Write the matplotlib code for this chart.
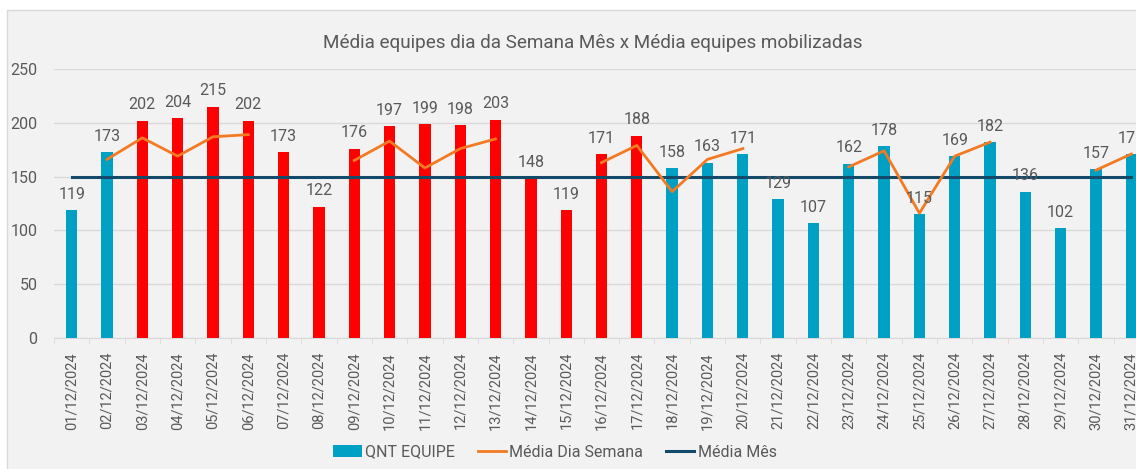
import numpy as np
import matplotlib.pyplot as plt
from matplotlib.patches import Rectangle
from matplotlib.lines import Line2D
from matplotlib.patches import Patch

# ==== DATA ====
datas = [f"{d:02d}/12/2024" for d in range(1, 32)]
qnt_equipe = [119, 173, 202, 204, 215, 202, 173, 122, 176, 197, 199, 198, 203, 148, 119,
              171, 188, 158, 163, 171, 129, 107, 162, 178, 115, 169, 182, 136, 102, 157, 171]
# media por dia da semana (so dias uteis)
nan = np.nan
media_semana = [nan, 166, 186, 169, 187, 189, nan, nan, 165, 183, 158, 176, 185, nan, nan,
                163, 179, 136, 166, 176, nan, nan, 159, 174, 116, 169, 182, nan, nan, 156, 171]
media_mes = [150] * 31
destaque = list(range(2, 17))  # 03/12 a 17/12 em vermelho
# ==============

azul = '#00a0c4'
vermelho = '#ff0000'
laranja = '#f37a22'
marinho = '#134a6a'
cinza_txt = '#595959'

plt.rcParams['font.family'] = ['Roboto', 'DejaVu Sans']

W, H = 1136, 469
fig = plt.figure(figsize=(W / 100, H / 100), dpi=100)
fig.patch.set_facecolor('white')
fig.patches.append(Rectangle((7 / W, -0.01), 1.02, (H - 10) / H + 0.01, transform=fig.transFigure,
                             facecolor='#f2f2f2', edgecolor='#d9d9d9', linewidth=1, zorder=-10))

x = np.arange(len(datas))
ax = fig.add_axes([54 / W, (H - 338) / H, 1095 / W, 269 / H])
ax.set_facecolor('none')

cores = [vermelho if i in destaque else azul for i in x]
bars = ax.bar(x, qnt_equipe, width=0.32, color=cores, zorder=3)
ax.plot(x, media_mes, color=marinho, linewidth=2.2, zorder=4)
ax.plot(x, media_semana, color=laranja, linewidth=2, zorder=5)

for xi, v in zip(x, qnt_equipe):
    ax.annotate(str(v), (xi, v), xytext=(0, 6), textcoords='offset points',
                ha='center', va='bottom', fontsize=11.5, color=cinza_txt, zorder=6)

ax.set_xlim(-0.5, len(datas) - 0.5)
ax.set_ylim(0, 250)
ax.set_yticks(range(0, 251, 50))
ax.grid(axis='y', color='#d9d9d9', linewidth=1, zorder=0)
ax.set_axisbelow(True)

ax.set_xticks(x)
ax.set_xticklabels(datas, rotation=90, fontsize=10.5, color=cinza_txt)
ax.set_xticks(np.arange(-0.5, len(datas), 1), minor=True)
ax.tick_params(axis='x', which='major', length=0, pad=10)
ax.tick_params(axis='x', which='minor', length=4, color='#d9d9d9')
ax.tick_params(axis='y', length=0, pad=12, labelsize=11.5, labelcolor=cinza_txt)

for s in ['top', 'right', 'left']:
    ax.spines[s].set_visible(False)
ax.spines['bottom'].set_color('#d9d9d9')

fig.text(593 / W, 1 - 43 / H, 'Média equipes dia da Semana Mês x Média equipes mobilizadas',
         ha='center', va='center', fontsize=13.6, color=cinza_txt)

handles = [Patch(facecolor=azul, label='QNT EQUIPE'),
           Line2D([], [], color=laranja, linewidth=2, label='Média Dia Semana'),
           Line2D([], [], color=marinho, linewidth=2.2, label='Média Mês')]
leg = fig.legend(handles=handles, loc='center', bbox_to_anchor=(555 / W, 1 - 452 / H), ncol=3,
                 frameon=False, fontsize=11.5, handlelength=1.8, handletextpad=0.2,
                 columnspacing=1.4, labelcolor=cinza_txt)

fig.savefig('out.png', dpi=100)
